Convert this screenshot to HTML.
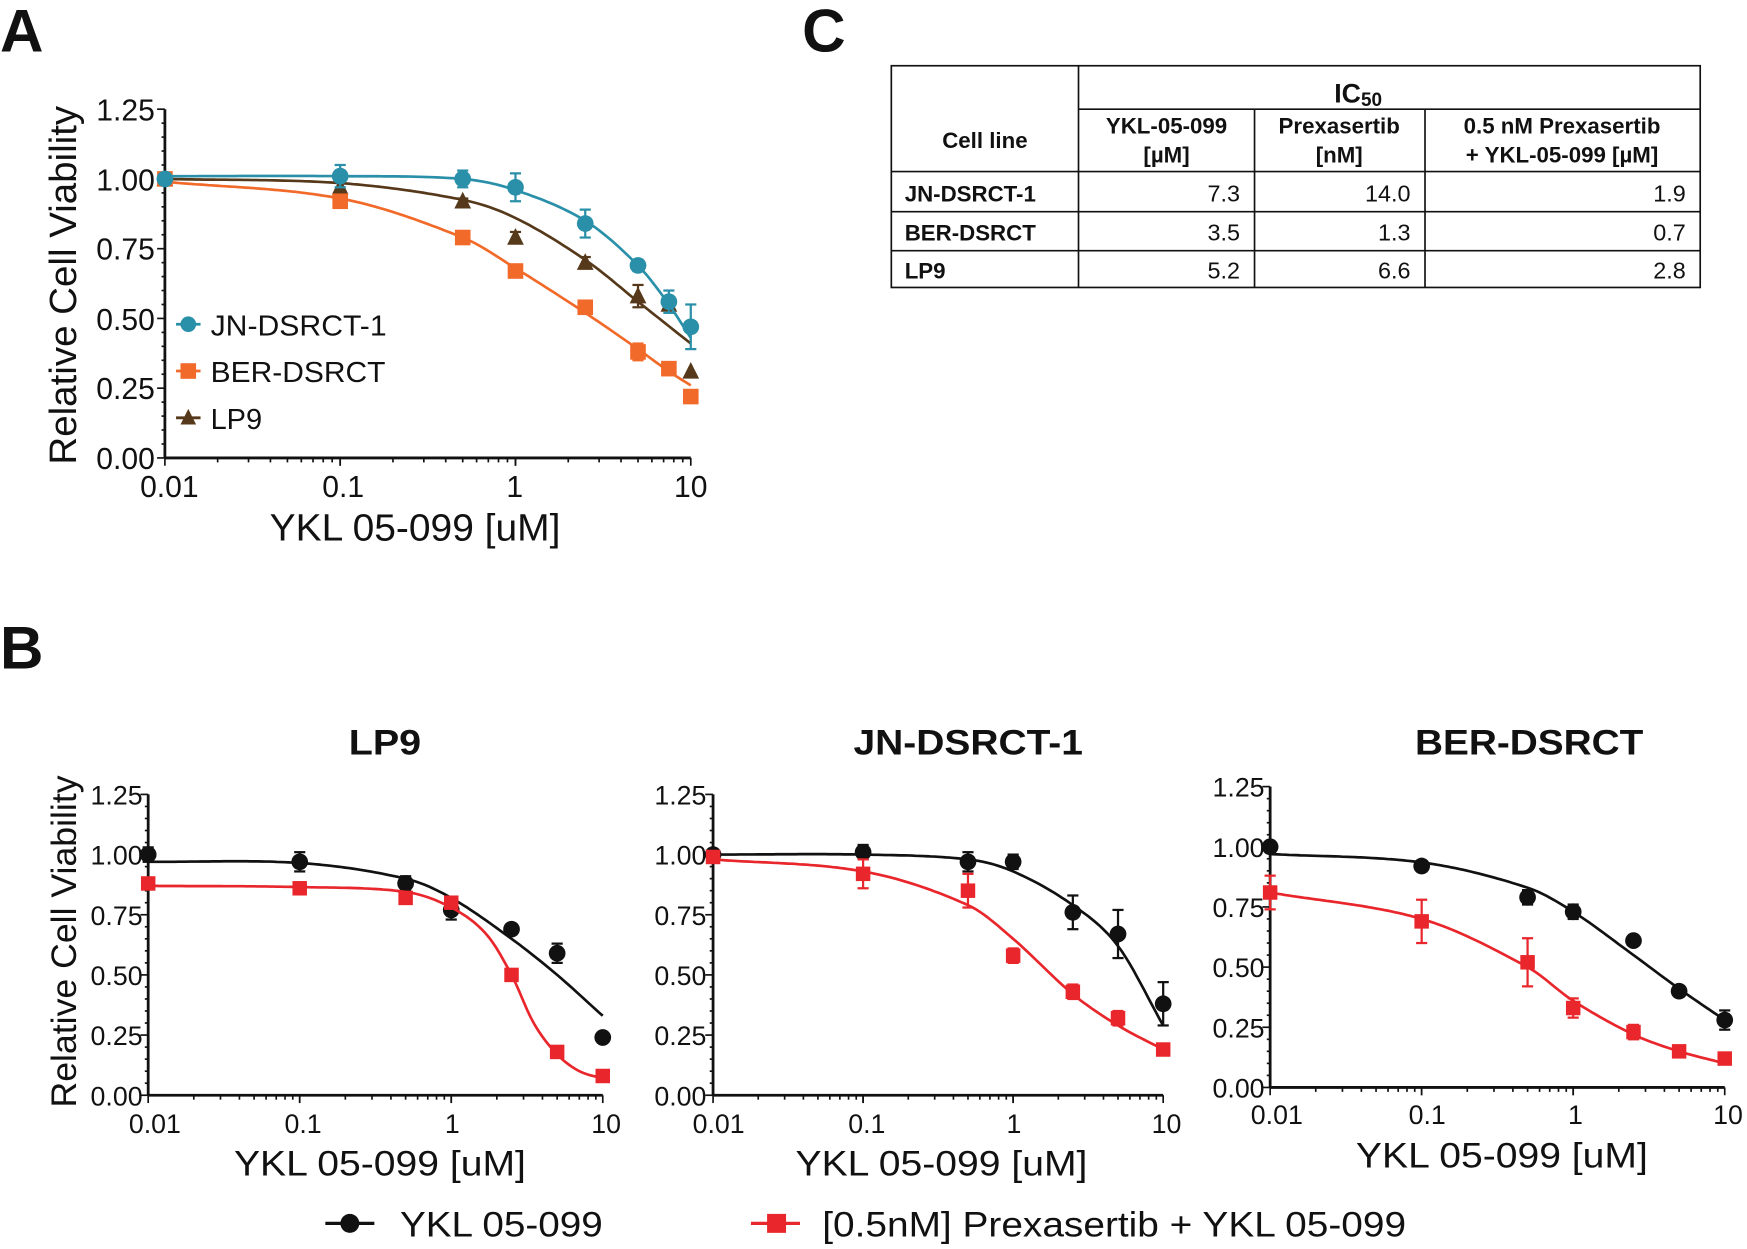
<!DOCTYPE html>
<html><head><meta charset="utf-8"><style>
html,body{margin:0;padding:0;background:#fff}
svg{display:block}
text{font-family:"Liberation Sans",sans-serif;fill:#111}
.b{font-weight:bold}
</style></head><body>
<svg id="s" width="1747" height="1249" viewBox="0 0 1568 1121" preserveAspectRatio="none" xmlns="http://www.w3.org/2000/svg">
<rect width="1568" height="1121" fill="#fff"/>
<text x="0" y="46" font-size="54" class="b">A</text>
<text x="720" y="46" font-size="54" class="b">C</text>
<text x="0" y="600" font-size="54" class="b">B</text>

<g font-size="27" text-anchor="end">
<text x="139" y="421">0.00</text><text x="139" y="358">0.25</text><text x="139" y="296">0.50</text>
<text x="139" y="233">0.75</text><text x="139" y="171">1.00</text><text x="139" y="108">1.25</text>
</g>
<g font-size="27" text-anchor="middle">
<text x="152" y="446">0.01</text><text x="308" y="446">0.1</text><text x="462" y="446">1</text><text x="620" y="446">10</text>
</g>
<text x="242" y="485" font-size="34" textLength="261" lengthAdjust="spacingAndGlyphs">YKL 05-099 [uM]</text>
<text transform="translate(68,256) rotate(-90)" font-size="34" text-anchor="middle" textLength="322" lengthAdjust="spacingAndGlyphs">Relative Cell Viability</text>
<g font-size="26">
<text x="189" y="301" textLength="158" lengthAdjust="spacingAndGlyphs">JN-DSRCT-1</text><text x="189" y="343" textLength="157" lengthAdjust="spacingAndGlyphs">BER-DSRCT</text><text x="189" y="385">LP9</text>
</g>

<g stroke="#111" stroke-width="1.5" fill="none">
<rect x="800" y="59" width="726" height="199"/>
<line x1="968" y1="59" x2="968" y2="258"/>
<line x1="1126" y1="98" x2="1126" y2="258"/>
<line x1="1279" y1="98" x2="1279" y2="258"/>
<line x1="968" y1="98" x2="1526" y2="98"/>
<line x1="800" y1="154" x2="1526" y2="154"/>
<line x1="800" y1="190" x2="1526" y2="190"/>
<line x1="800" y1="225" x2="1526" y2="225"/>
</g>
<g font-size="20" class="b">
<text x="1219" y="92" font-size="24" text-anchor="middle" class="b">IC<tspan font-size="17" dy="3">50</tspan></text>
<text x="884" y="133" text-anchor="middle" class="b">Cell line</text>
<text x="1047" y="120" text-anchor="middle" class="b">YKL-05-099</text>
<text x="1047" y="146" text-anchor="middle" class="b">[µM]</text>
<text x="1202" y="120" text-anchor="middle" class="b">Prexasertib</text>
<text x="1202" y="146" text-anchor="middle" class="b">[nM]</text>
<text x="1402" y="120" text-anchor="middle" class="b">0.5 nM Prexasertib</text>
<text x="1402" y="146" text-anchor="middle" class="b">+ YKL-05-099 [µM]</text>
<text x="812" y="181" class="b">JN-DSRCT-1</text>
<text x="812" y="216" class="b">BER-DSRCT</text>
<text x="812" y="250" class="b">LP9</text>
</g>
<g font-size="21" text-anchor="end">
<text x="1113" y="181">7.3</text><text x="1266" y="181">14.0</text><text x="1513" y="181">1.9</text>
<text x="1113" y="216">3.5</text><text x="1266" y="216">1.3</text><text x="1513" y="216">0.7</text>
<text x="1113" y="250">5.2</text><text x="1266" y="250">6.6</text><text x="1513" y="250">2.8</text>
</g>

<g font-size="32" class="b">
<text x="313" y="677" class="b" textLength="65" lengthAdjust="spacingAndGlyphs">LP9</text>
<text x="766" y="677" class="b" textLength="206" lengthAdjust="spacingAndGlyphs">JN-DSRCT-1</text>
<text x="1270" y="677" class="b" textLength="205" lengthAdjust="spacingAndGlyphs">BER-DSRCT</text>
</g>
<text transform="translate(68,845) rotate(-90)" font-size="32" text-anchor="middle" textLength="298" lengthAdjust="spacingAndGlyphs">Relative Cell Viability</text>
<g font-size="24" text-anchor="end">
<text x="128" y="992">0.00</text><text x="128" y="938">0.25</text><text x="128" y="884">0.50</text><text x="128" y="830">0.75</text><text x="128" y="776">1.00</text><text x="128" y="722">1.25</text>
<text x="634" y="992">0.00</text><text x="634" y="938">0.25</text><text x="634" y="884">0.50</text><text x="634" y="830">0.75</text><text x="634" y="776">1.00</text><text x="634" y="722">1.25</text>
<text x="1135" y="985">0.00</text><text x="1135" y="931">0.25</text><text x="1135" y="877">0.50</text><text x="1135" y="823">0.75</text><text x="1135" y="769">1.00</text><text x="1135" y="715">1.25</text>
</g>
<g font-size="24" text-anchor="middle">
<text x="139" y="1017">0.01</text><text x="272" y="1017">0.1</text><text x="406" y="1017">1</text><text x="544" y="1017">10</text>
<text x="645" y="1017">0.01</text><text x="778" y="1017">0.1</text><text x="910" y="1017">1</text><text x="1047" y="1017">10</text>
<text x="1146" y="1009">0.01</text><text x="1281" y="1009">0.1</text><text x="1414" y="1009">1</text><text x="1551" y="1009">10</text>
</g>
<g font-size="32">
<text x="210" y="1055" textLength="262" lengthAdjust="spacingAndGlyphs">YKL 05-099 [uM]</text>
<text x="714" y="1055" textLength="262" lengthAdjust="spacingAndGlyphs">YKL 05-099 [uM]</text>
<text x="1217" y="1048" textLength="262" lengthAdjust="spacingAndGlyphs">YKL 05-099 [uM]</text>
</g>
<g font-size="32">
<text x="359" y="1110" textLength="182" lengthAdjust="spacingAndGlyphs">YKL 05-099</text>
<text x="738" y="1110" textLength="524" lengthAdjust="spacingAndGlyphs">[0.5nM] Prexasertib + YKL 05-099</text>
</g>
<g id="dyn"></g>
</svg>
<script>
const NS="http://www.w3.org/2000/svg",g=document.getElementById('dyn');
function el(t,a){const e=document.createElementNS(NS,t);for(const k in a)e.setAttribute(k,a[k]);g.appendChild(e);return e;}
function mk(type,x,y,c,r){
 if(type=='c')el('circle',{cx:x,cy:y,r:r,fill:c});
 else if(type=='s')el('rect',{x:x-r,y:y-r,width:2*r,height:2*r,fill:c});
 else el('polygon',{points:`${x},${y-r-1} ${x-r},${y+r-1} ${x+r},${y+r-1}`,fill:c});
}
function interp(pts,lx){
 for(let i=0;i<pts.length-1;i++){const[a,ya]=pts[i],[b,yb]=pts[i+1];if(lx>=a&&lx<=b){
  const p0=pts[Math.max(0,i-1)],p3=pts[Math.min(pts.length-1,i+2)];
  const m1=(yb-p0[1])/(b-p0[0]||1),m2=(p3[1]-ya)/(p3[0]-a||1);
  const h=b-a,t=(lx-a)/h,t2=t*t,t3=t2*t;
  return (2*t3-3*t2+1)*ya+(t3-2*t2+t)*h*m1+(-2*t3+3*t2)*yb+(t3-t2)*h*m2;}}
 return pts[pts.length-1][1];}
function axes(ax){
 const {x0,x1,y0,y1}=ax;
 el('line',{x1:x0,y1:y0,x2:x1,y2:y0,stroke:'#111','stroke-width':2.5});
 el('line',{x1:x0,y1:y0,x2:x0,y2:y1,stroke:'#111','stroke-width':2.5});
 const dx=(x1-x0)/3;
 for(let d=0;d<3;d++)for(let k=1;k<=10;k++){const x=x0+dx*(d+Math.log10(k));el('line',{x1:x,y1:y0,x2:x,y2:y0+(k==1||k==10?7:4),stroke:'#111','stroke-width':1.5});}
 const dy=(y0-y1)/25;
 for(let k=0;k<=25;k++){const y=y0-dy*k;el('line',{x1:x0,y1:y,x2:x0-(k%5==0?7:3),y2:y,stroke:'#111','stroke-width':1.5});}
}
function series(ax,curve,pts,c,type,r){
 const X=v=>ax.x0+(Math.log10(v)+2)*(ax.x1-ax.x0)/3, Y=v=>ax.y0-v*(ax.y0-ax.y1)/1.25;
 const cp=curve.map(p=>[Math.log10(p[0]),p[1]]);
 let d='';for(let i=0;i<=120;i++){const lx=-2+3*i/120;d+=(i?'L':'M')+X(Math.pow(10,lx)).toFixed(1)+','+Y(interp(cp,lx)).toFixed(1);}
 el('path',{d:d,fill:'none',stroke:c,'stroke-width':2.4});
 pts.forEach(p=>{const x=X(p[0]),y=Y(p[1]),e=p[2]||0;
  if(e){el('line',{x1:x,y1:Y(p[1]-e),x2:x,y2:Y(p[1]+e),stroke:c,'stroke-width':2});
   [p[1]-e,p[1]+e].forEach(v=>el('line',{x1:x-5,y1:Y(v),x2:x+5,y2:Y(v),stroke:c,'stroke-width':2}));}
  mk(type,x,y,c,r);});
}
const A={x0:148,x1:620,y0:411,y1:98};
axes(A);
series(A,[[0.01,1.0],[0.1,0.985],[0.5,0.925],[1,0.86],[2.5,0.71],[5,0.56],[10,0.41]],
 [[0.01,1.0],[0.1,0.97,0.02],[0.5,0.92,0.01],[1,0.79,0.02],[2.5,0.70,0.02],[5,0.58,0.04],[7.5,0.55,0.02],[10,0.31]],'#56391a','t',7.5);
series(A,[[0.01,0.99],[0.1,0.93],[0.5,0.79],[1,0.68],[2.5,0.52],[5,0.39],[7.5,0.31],[10,0.26]],
 [[0.01,1.0],[0.1,0.92,0.01],[0.5,0.79,0.02],[1,0.67,0.01],[2.5,0.54,0.02],[5,0.38,0.03],[7.5,0.32,0.02],[10,0.22]],'#f26a2a','s',7);
series(A,[[0.01,1.01],[0.1,1.01],[0.5,1.0],[1,0.96],[2.5,0.85],[5,0.69],[7.5,0.55],[10,0.43]],
 [[0.01,1.0],[0.1,1.01,0.04],[0.5,1.0,0.03],[1,0.97,0.05],[2.5,0.84,0.05],[5,0.69,0.02],[7.5,0.56,0.04],[10,0.47,0.08]],'#2a8fa8','c',7.5);
[[291,'#2a8fa8','c'],[333,'#f26a2a','s'],[375,'#56391a','t']].forEach(l=>{el('line',{x1:158,y1:l[0],x2:180,y2:l[0],stroke:l[1],'stroke-width':2.5});mk(l[2],169,l[0],l[1],7);});
const L={x0:133,x1:541,y0:983,y1:713},J={x0:640,x1:1044,y0:983,y1:713},Bz={x0:1140,x1:1548,y0:976,y1:706};
[L,J,Bz].forEach(axes);
const K='#111',R='#e8262b';
series(L,[[0.01,0.97],[0.1,0.965],[0.5,0.9],[1,0.82],[2.5,0.65],[5,0.5],[10,0.33]],
 [[0.01,1.0,0.03],[0.1,0.97,0.04],[0.5,0.88,0.03],[1,0.77,0.04],[2.5,0.69,0.02],[5,0.59,0.04],[10,0.24]],K,'c',7.5);
series(L,[[0.01,0.87],[0.1,0.865],[0.5,0.845],[1,0.78],[1.7,0.67],[2.5,0.5],[3.5,0.3],[5,0.17],[7,0.1],[10,0.07]],
 [[0.01,0.88],[0.1,0.86],[0.5,0.82,0.02],[1,0.80,0.02],[2.5,0.50,0.02],[5,0.18],[10,0.08]],R,'s',6.5);
series(J,[[0.01,1.0],[0.1,1.0],[0.5,0.98],[1,0.93],[2.5,0.79],[5,0.62],[10,0.29]],
 [[0.01,1.0],[0.1,1.01,0.03],[0.5,0.97,0.04],[1,0.97,0.03],[2.5,0.76,0.07],[5,0.67,0.1],[10,0.38,0.09]],K,'c',7.5);
series(J,[[0.01,0.98],[0.1,0.93],[0.5,0.79],[1,0.65],[2.5,0.42],[5,0.29],[10,0.19]],
 [[0.01,0.99],[0.1,0.92,0.06],[0.5,0.85,0.07],[1,0.58,0.03],[2.5,0.43,0.03],[5,0.32,0.03],[10,0.19,0.02]],R,'s',6.5);
series(Bz,[[0.01,0.97],[0.1,0.935],[0.5,0.83],[1,0.73],[2.5,0.55],[5,0.41],[10,0.28]],
 [[0.01,1.0],[0.1,0.92],[0.5,0.79,0.03],[1,0.73,0.03],[2.5,0.61],[5,0.40,0.02],[10,0.28,0.04]],K,'c',7.5);
series(Bz,[[0.01,0.81],[0.1,0.70],[0.5,0.50],[1,0.36],[2.5,0.22],[5,0.15],[10,0.10]],
 [[0.01,0.81,0.07],[0.1,0.69,0.09],[0.5,0.52,0.1],[1,0.33,0.04],[2.5,0.23,0.03],[5,0.15],[10,0.12]],R,'s',6.5);
el('line',{x1:292,y1:1098,x2:336,y2:1098,stroke:K,'stroke-width':3});mk('c',314,1098,K,8.5);
el('line',{x1:674,y1:1098,x2:718,y2:1098,stroke:R,'stroke-width':3});mk('s',697,1098,R,8.5);
</script>
</body></html>
